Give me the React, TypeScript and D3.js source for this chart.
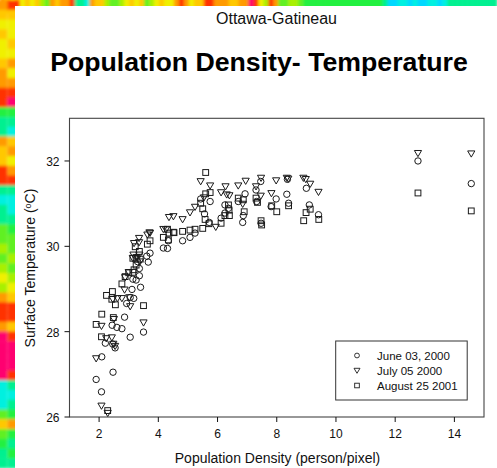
import React from "react";
import * as d3 from "d3";

type P = [number, number];

const june: P[] = [[1.9,26.88],[2.08,26.59],[2.09,27.41],[2.47,27.05],[2.21,27.73],[2.46,27.71],[2.54,27.62],[3.05,27.87],[3.5,27.99],[2.44,28.15],[2.6,28.1],[2.77,28.07],[2.86,28.34],[2.93,28.66],[3.05,28.8],[3.17,28.78],[3.11,28.99],[3.4,29.04],[3.14,29.23],[3.25,29.21],[3.36,29.31],[3.36,29.48],[3.66,29.63],[3.61,29.77],[3.72,29.84],[3.3,29.64],[4.17,29.96],[4.31,29.95],[4.34,30.13],[4.82,30.13],[5.07,30.21],[5.24,30.31],[5.72,30.56],[5.56,30.76],[6.12,30.66],[6.25,30.97],[5.75,31.05],[5.43,31.11],[6.85,30.56],[6.87,30.72],[6.7,31.05],[6.93,31.23],[7.32,31.05],[7.47,30.54],[7.3,31.32],[7.46,31.52],[7.81,30.93],[7.98,31.11],[8.34,31.22],[8.4,31.01],[8.36,31.57],[9.0,31.36],[9.1,30.97],[9.41,30.74],[6.25,30.78],[6.37,30.89],[12.77,32.0],[14.57,31.47]];

const july: P[] = [[1.9,27.37],[2.08,26.26],[2.29,26.09],[2.08,28.13],[2.24,27.84],[2.43,27.86],[2.48,27.71],[2.54,27.66],[2.5,28.29],[3.5,28.21],[3.05,28.59],[3.02,28.8],[2.77,28.78],[2.62,28.78],[2.46,28.76],[2.86,28.98],[2.88,29.27],[3.0,29.39],[3.14,29.72],[3.18,30.07],[3.35,30.09],[3.35,30.19],[3.63,30.27],[3.7,30.32],[3.16,29.8],[3.27,29.74],[3.36,29.8],[3.38,29.64],[3.72,30.31],[4.17,30.4],[4.26,30.39],[4.36,30.68],[4.51,30.7],[4.82,30.63],[5.07,30.79],[5.24,30.92],[5.43,31.52],[5.75,31.42],[5.54,31.14],[6.27,31.4],[6.12,31.26],[6.31,31.21],[6.4,31.19],[5.94,30.45],[6.7,31.42],[6.95,31.53],[6.85,30.99],[7.47,31.6],[7.46,31.18],[7.3,31.4],[7.82,31.24],[7.98,31.54],[8.34,31.6],[8.39,31.58],[8.9,31.6],[8.98,31.57],[9.13,31.46],[9.41,31.27],[12.77,32.18],[14.57,32.17]];

const august: P[] = [[2.29,26.15],[1.9,28.17],[2.09,28.41],[2.08,27.88],[2.48,28.33],[2.25,28.85],[2.45,28.94],[2.43,28.76],[2.55,28.63],[3.5,28.61],[2.77,29.12],[2.88,29.29],[3.0,29.38],[3.14,29.39],[3.18,29.45],[3.25,29.56],[3.14,29.72],[3.25,29.72],[3.39,29.7],[3.36,29.88],[3.22,29.99],[3.63,30.05],[3.72,30.13],[4.17,30.21],[4.36,30.31],[4.51,30.33],[4.31,30.4],[4.34,30.15],[4.53,30.32],[4.82,30.35],[5.07,30.38],[5.24,30.4],[5.5,30.42],[5.6,31.73],[5.75,31.26],[5.6,31.23],[5.43,31.01],[5.5,30.88],[5.58,30.63],[5.71,30.53],[6.12,30.54],[6.25,30.72],[6.4,30.72],[6.39,30.85],[6.37,30.97],[6.7,31.13],[6.87,31.09],[6.9,30.81],[7.47,30.6],[7.49,30.5],[7.3,31.13],[7.35,31.03],[7.83,30.95],[8.0,30.81],[8.4,30.95],[8.99,30.79],[9.13,30.87],[8.91,30.6],[9.42,30.63],[12.77,31.25],[14.57,30.83]];

const xTicks = [2, 4, 6, 8, 10, 12, 14];
const yTicks = [26, 28, 30, 32];
const legendLabels = ["June 03, 2000", "July 05 2000", "August 25 2001"];

const O = "#ff9a00", Y = "#f0f000", L = "#a8f000", G = "#20f040", S = "#00f090", C = "#00f0e0", B = "#00d8ff", R = "#ff3000", M = "#ff0070", A = "#ffc800", N = "#60f020";

const topStrip = [O,A,Y,A,Y,A,Y,A,L,N,O,A,O,O,R,S,S,C,O,A,A,L,N,N,L,Y,A,Y,A,N,L,Y,A,Y,Y,O,R,O,Y,A,A,R,R,O,O,O,A,A,O,O,M,R,Y,L,R,O,N,N,L,L,N,G,G,G,G,G,G,G,G,G,G,G,G,G,G,G,G,S,B,B,C,C,B,C,B,B,C,C,B,C,S,S,S,S,S,S,S,S,S,S];
const leftA = [O,A,Y,A,Y,Y,A,O,O,R,R,G,S,S,O,A,A,R,R,S,C,S,S,N,N,L,N,L,Y,L,O,R,R,O,M,M,M,M,M,C,C,C,N,A,N,G,S,S];
const leftB = [R,A,Y,Y,A,Y,O,Y,O,R,M,G,S,C,A,O,Y,O,R,S,C,C,S,G,N,N,L,N,L,Y,A,R,R,A,R,M,M,M,R,S,C,S,G,O,G,S,G,S];

const W = 497, H = 468;
const x = d3.scaleLinear().domain([1, 15]).range([69.5, 484]);
const y = d3.scaleLinear().domain([26, 33]).range([417, 118.3]);
const topCell = d3.scaleBand<number>().domain(d3.range(topStrip.length)).range([0, W]);
const leftCell = d3.scaleBand<number>().domain(d3.range(leftA.length)).range([0, H]);

const markerStroke = "#1a1a1a";
const triGen = d3.line();
const circleMark = (cx: number, cy: number) => (
  <circle cx={cx} cy={cy} r={3.2} fill="none" stroke={markerStroke} strokeWidth={1} />
);
const triMark = (cx: number, cy: number) => (
  <path d={triGen([[cx - 3.6, cy - 2.8], [cx + 3.6, cy - 2.8], [cx, cy + 3.4]])! + "Z"} fill="none" stroke={markerStroke} strokeWidth={1} />
);
const squareMark = (cx: number, cy: number) => (
  <rect x={cx - 2.9} y={cy - 2.9} width={5.8} height={5.8} fill="none" stroke={markerStroke} strokeWidth={1} />
);

const font = "'Liberation Sans', Arial, sans-serif";

export default function App() {
  return (
    <svg width={W} height={H} style={{ position: "fixed", left: 0, top: 0, display: "block" }} fontFamily={font}>
      <defs>
        <filter id="soft" x="-5%" y="-5%" width="110%" height="110%">
          <feGaussianBlur stdDeviation={1.6} />
        </filter>
        <clipPath id="stripClip">
          <path d={`M0 0H${W}V6H15V${H}H0Z`} />
        </clipPath>
      </defs>
      <rect width={W} height={H} fill="#fff" />
      <g clipPath="url(#stripClip)">
        <g filter="url(#soft)">
          {topStrip.map((c, i) => (
            <rect key={i} x={topCell(i)} y={-6} width={topCell.bandwidth() + 0.5} height={20} fill={c} />
          ))}
          {leftA.map((c, i) => (
            <rect key={i} x={-6} y={leftCell(i)} width={13.5} height={leftCell.bandwidth() + 0.5} fill={c} />
          ))}
          {leftB.map((c, i) => (
            <rect key={i} x={7.5} y={leftCell(i)} width={12} height={leftCell.bandwidth() + 0.5} fill={c} />
          ))}
        </g>
      </g>
      <text x={276.5} y={24} textAnchor="middle" fontSize={16} fill="#111">Ottawa-Gatineau</text>
      <text x={259} y={71} textAnchor="middle" fontSize={26.7} fontWeight="bold" fill="#000">Population Density- Temperature</text>

      <rect x={69.5} y={118.3} width={414.5} height={298.7} fill="none" stroke="#444" strokeWidth={1.1} />
      {xTicks.map((t) => (
        <g key={t}>
          <line x1={x(t)} x2={x(t)} y1={417} y2={422} stroke="#111" />
          <text x={x(t)} y={438} textAnchor="middle" fontSize={12} fill="#111">{t}</text>
        </g>
      ))}
      {yTicks.map((t) => (
        <g key={t}>
          <line x1={64.5} x2={69.5} y1={y(t)} y2={y(t)} stroke="#111" />
          <text x={59.5} y={y(t) + 5} textAnchor="end" fontSize={12} fill="#111">{t}</text>
        </g>
      ))}
      <text x={277.5} y={463} textAnchor="middle" fontSize={14} fill="#111">Population Density (person/pixel)</text>
      <text transform="translate(34.5,268) rotate(-90)" textAnchor="middle" fontSize={14} fill="#111">
        Surface Temperature (<tspan dy={-4} fontSize={9}>o</tspan><tspan dy={4}>C)</tspan>
      </text>

      {june.map((d, i) => <g key={i}>{circleMark(x(d[0]), y(d[1]))}</g>)}
      {july.map((d, i) => <g key={i}>{triMark(x(d[0]), y(d[1]))}</g>)}
      {august.map((d, i) => <g key={i}>{squareMark(x(d[0]), y(d[1]))}</g>)}

      <rect x={335.7} y={341} width={131.5} height={59} fill="#fff" stroke="#333" strokeWidth={1} />
      {legendLabels.map((l, i) => {
        const ly = 355.5 + i * 15;
        return (
          <g key={l}>
            {i === 0 ? <circle cx={357} cy={ly} r={2.4} fill="none" stroke="#111" strokeWidth={0.85} /> : null}
            {i === 1 ? <path d={triGen([[354, ly - 2.2], [360, ly - 2.2], [357, ly + 2.8]])! + "Z"} fill="none" stroke="#111" strokeWidth={0.85} /> : null}
            {i === 2 ? <rect x={354.7} y={ly - 2.3} width={4.6} height={4.6} fill="none" stroke="#111" strokeWidth={0.85} /> : null}
            <text x={377} y={ly + 4.3} fontSize={11.5} fill="#111">{l}</text>
          </g>
        );
      })}
    </svg>
  );
}
